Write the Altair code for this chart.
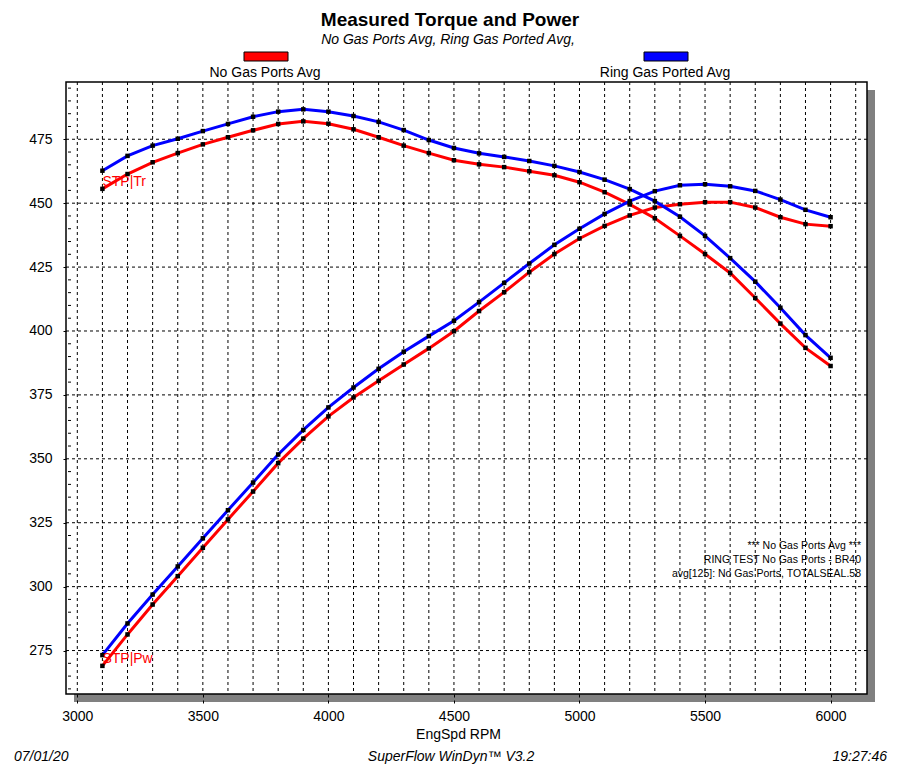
import altair as alt
import pandas as pd

# ---------------- data ----------------
rpm = [3100, 3200, 3300, 3400, 3500, 3600, 3700, 3800, 3900, 4000,
       4100, 4200, 4300, 4400, 4500, 4600, 4700, 4800, 4900, 5000,
       5100, 5200, 5300, 5400, 5500, 5600, 5700, 5800, 5900, 6000]

series_names = ["No Gas Ports Avg", "Ring Gas Ported Avg"]

no_gas_torque = [455.6, 461.4, 466.0, 469.6, 473.0, 475.8, 478.5, 481.0, 482.0, 481.1,
                 478.9, 475.8, 472.5, 469.6, 466.8, 465.2, 464.1, 462.5, 460.9, 458.2,
                 454.3, 449.5, 444.1, 437.2, 430.1, 422.7, 412.9, 402.9, 393.4, 386.3]
ring_torque = [462.7, 468.5, 472.5, 475.2, 478.2, 481.0, 483.8, 485.8, 486.7, 485.8,
               484.1, 481.8, 478.6, 474.7, 471.6, 469.5, 468.1, 466.5, 464.6, 462.2,
               459.2, 455.5, 450.8, 444.7, 437.2, 428.5, 419.3, 409.1, 398.4, 389.5]
no_gas_power = [269.0, 281.3, 293.0, 304.1, 315.2, 326.3, 337.2, 348.3, 357.9, 366.6,
                374.0, 380.5, 386.9, 393.2, 399.9, 407.8, 415.2, 423.0, 430.1, 436.2,
                441.1, 445.2, 448.3, 449.6, 450.4, 450.4, 448.3, 444.5, 441.8, 441.0]
ring_power = [273.2, 285.6, 296.9, 307.9, 318.9, 329.9, 340.7, 351.7, 361.3, 370.1,
              377.9, 385.2, 391.9, 398.0, 404.0, 411.3, 418.8, 426.4, 433.7, 440.0,
              445.8, 450.8, 454.7, 457.0, 457.4, 456.6, 454.8, 451.4, 447.4, 444.5]

x_tick_labels = [3000, 3500, 4000, 4500, 5000, 5500, 6000]
y_tick_labels = [275, 300, 325, 350, 375, 400, 425, 450, 475]
x_grid = [3000, 3100, 3200, 3300, 3400, 3500, 3600, 3700, 3800, 3900, 4000,
          4100, 4200, 4300, 4400, 4500, 4600, 4700, 4800, 4900, 5000,
          5100, 5200, 5300, 5400, 5500, 5600, 5700, 5800, 5900, 6000, 6100]
y_minor = [260, 265, 270, 280, 285, 290, 295, 305, 310, 315, 320, 330, 335, 340, 345,
           355, 360, 365, 370, 380, 385, 390, 395, 405, 410, 415, 420, 430, 435, 440,
           445, 455, 460, 465, 470, 480, 485, 490, 495]

title_text = "Measured Torque and Power"
subtitle_text = "No Gas Ports Avg, Ring Gas Ported Avg,"
note_lines = ["*** No Gas Ports Avg ***",
              "RING TEST No Gas Ports - BR40",
              "avg[125]: No Gas Ports, TOTALSEAL.58"]
footer_left = "07/01/20"
footer_mid = "SuperFlow WinDyn\u2122 V3.2"
footer_right = "19:27:46"

# ---------------- tables ----------------
rows = []
for name, tq, pw in [(series_names[0], no_gas_torque, no_gas_power),
                     (series_names[1], ring_torque, ring_power)]:
    for r, t, p in zip(rpm, tq, pw):
        rows.append({"rpm": r, "series": name, "measure": "Torque", "value": t})
        rows.append({"rpm": r, "series": name, "measure": "Power", "value": p})
df = pd.DataFrame(rows)

lab_df = pd.DataFrame({"rpm": [rpm[0], rpm[0]],
                       "value": [no_gas_torque[0], no_gas_power[0]],
                       "label": ["STP|Tr", "STP|Pw"]})
one = pd.DataFrame({"k": [0]})

W, H = 801, 612
FONT = "Liberation Sans"
xs = alt.Scale(domain=[2955, 6145], nice=False, zero=False)
ys = alt.Scale(domain=[258, 497.4], nice=False, zero=False)
colors = alt.Scale(domain=series_names, range=["#ff0000", "#0000ff"])

xaxis = alt.Axis(values=x_tick_labels, title="EngSpd RPM", grid=False, domain=False,
                 tickSize=9, tickDash=[3, 3], tickColor="black", labelPadding=6,
                 labelFontSize=14, labelColor="black", labelFont=FONT,
                 titleFont=FONT, titleFontSize=14, titleFontWeight="normal",
                 titleColor="black", titleX=392, titleY=44, titleBaseline="alphabetic",
                 titleAlign="center", zindex=1, format="d")
yaxis = alt.Axis(values=y_tick_labels, title=None, grid=False, domain=False,
                 tickSize=6, tickDash=[3, 3], tickColor="black", labelPadding=8,
                 labelFontSize=14, labelColor="black", labelFont=FONT, zindex=1)

shadow = alt.Chart(one).mark_rect(color="#808080").encode(
    x=alt.value(8), x2=alt.value(W + 8), y=alt.value(8), y2=alt.value(H + 8))
panel = alt.Chart(one).mark_rect(color="white").encode(
    x=alt.value(0), x2=alt.value(W), y=alt.value(0), y2=alt.value(H))

vgrid = alt.Chart(pd.DataFrame({"g": x_grid})).mark_rule(
    color="black", strokeWidth=1, strokeDash=[3, 3]).encode(
    x=alt.X("g:Q", scale=xs, axis=xaxis))
hgrid = alt.Chart(pd.DataFrame({"h": y_tick_labels})).mark_rule(
    color="black", strokeWidth=1, strokeDash=[3, 3]).encode(
    y=alt.Y("h:Q", scale=ys, axis=yaxis))
minor = alt.Chart(pd.DataFrame({"m": y_minor})).mark_rule(
    color="black", strokeWidth=1).encode(
    y=alt.Y("m:Q", scale=ys, axis=yaxis), x=alt.value(2), x2=alt.value(5))

border = alt.Chart(one).mark_rect(fillOpacity=0, stroke="black", strokeWidth=1.5).encode(
    x=alt.value(0), x2=alt.value(W), y=alt.value(0), y2=alt.value(H))

lines = alt.Chart(df).mark_line(strokeWidth=3).encode(
    x=alt.X("rpm:Q", scale=xs, axis=xaxis),
    y=alt.Y("value:Q", scale=ys, axis=yaxis),
    color=alt.Color("series:N", scale=colors, legend=None),
    detail="measure:N",
    order="rpm:Q")
points = alt.Chart(df).mark_square(size=20, color="black", opacity=1).encode(
    x=alt.X("rpm:Q", scale=xs, axis=xaxis),
    y=alt.Y("value:Q", scale=ys, axis=yaxis))

stp = alt.Chart(lab_df).mark_text(align="left", baseline="alphabetic", dy=-3,
                                  font=FONT, fontSize=14, color="#ff0000").encode(
    x=alt.X("rpm:Q", scale=xs, axis=xaxis),
    y=alt.Y("value:Q", scale=ys, axis=yaxis),
    text="label:N")


def txt(s, px, py, size, align="center", style="normal", weight="normal", color="black"):
    return alt.Chart(one).mark_text(text=s, align=align, baseline="alphabetic",
                                    font=FONT, fontSize=size, fontStyle=style,
                                    fontWeight=weight, color=color).encode(
        x=alt.value(px - 66), y=alt.value(py - 82))


deco = [
    txt(title_text, 450, 26, 19, weight="bold"),
    txt(subtitle_text, 448, 44, 14, style="italic"),
    txt(series_names[0], 265, 77, 14),
    txt(series_names[1], 665, 77, 14),
    txt(note_lines[0], 861, 549, 10.5, align="right"),
    txt(note_lines[1], 861, 563, 10.5, align="right"),
    txt(note_lines[2], 861, 577, 10.5, align="right"),
    txt(footer_left, 14, 761, 14, align="left", style="italic"),
    txt(footer_mid, 451, 761, 14, style="italic"),
    txt(footer_right, 887, 761, 14, align="right", style="italic"),
]

swatches = [
    alt.Chart(one).mark_rect(color=c, stroke="black", strokeWidth=1).encode(
        x=alt.value(x0 - 66), x2=alt.value(x1 - 66), y=alt.value(52 - 82), y2=alt.value(61 - 82))
    for c, x0, x1 in [("#ff0000", 244, 288), ("#0000ff", 644, 688)]
]

chart = alt.layer(shadow, panel, vgrid, hgrid, minor, border, lines, points, stp,
                  *swatches, *deco).properties(
    width=W, height=H,
    autosize=alt.AutoSizeParams(type="none"),
    padding={"left": 58, "top": 74, "right": 24, "bottom": 70},
    background="white",
).configure_view(strokeWidth=0)

chart.save("out.html", embed_options={"renderer": "svg", "actions": False})
